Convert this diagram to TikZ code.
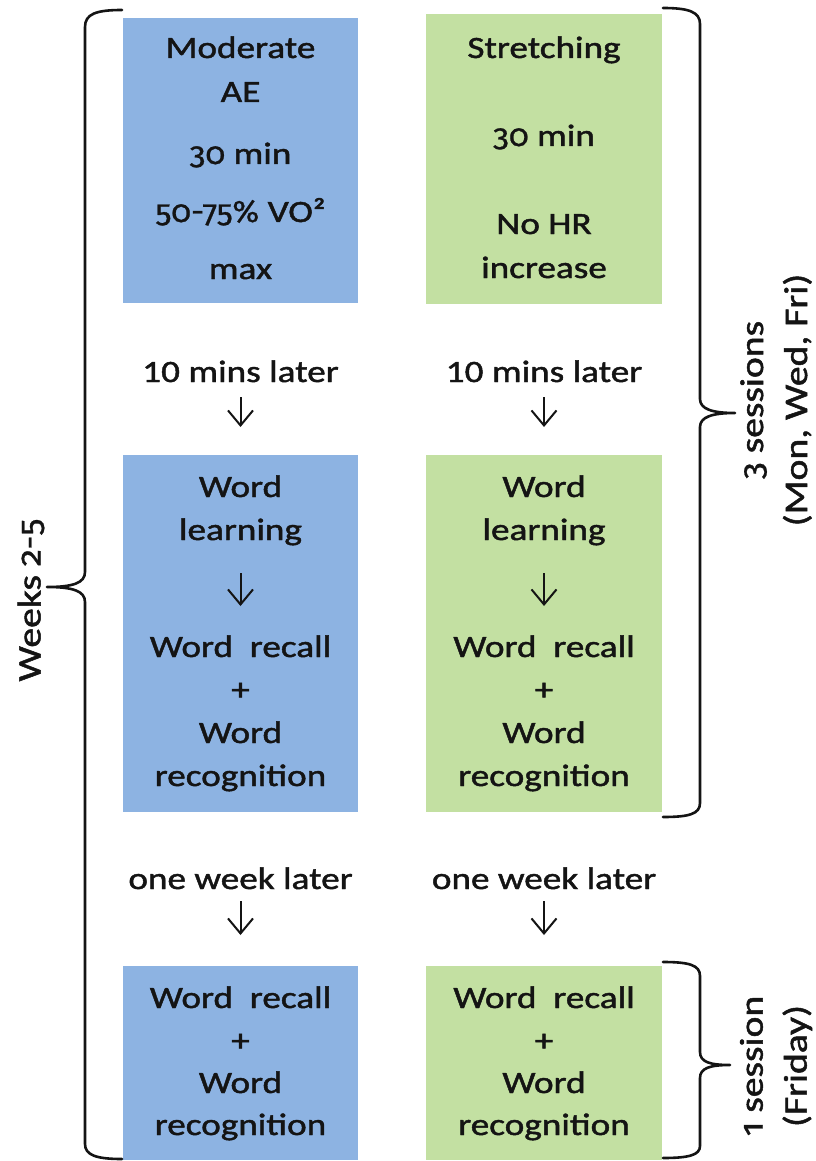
\documentclass[tikz,border=0pt]{standalone}
\usepackage{fontspec}
\setmainfont{Carlito}[FakeStretch=1.2,FakeBold=1.5]
\newfontfamily\osffont{Fira Sans}[Numbers=OldStyle,FakeStretch=1.05,FakeBold=0.8]
\newcommand\olddig[1]{{\osffont #1}}
\usetikzlibrary{arrows.meta}
\definecolor{aeblue}{HTML}{8DB3E2}
\definecolor{stgreen}{HTML}{C3E0A2}
\definecolor{ink}{HTML}{141414}
\begin{document}
\begin{tikzpicture}[x=1pt,y=-1pt,
  box/.style={inner sep=0pt, outer sep=0pt, draw=none},
  bluebox/.style={box, fill=aeblue, minimum width=235pt},
  greenbox/.style={box, fill=stgreen, minimum width=236pt},
  txt/.style={inner sep=0pt, anchor=base, text=ink, font=\fontsize{31}{43}\selectfont},
  side/.style={inner sep=0pt, rotate=90, align=center, text=ink, font=\fontsize{33}{44}\selectfont},
  darr/.style={line width=2pt, draw=ink, -{Straight Barb[length=15pt,width=25pt]}},
  brace/.style={line width=2.6pt, draw=ink, line join=round, line cap=round}
]
\useasboundingbox (0,0) rectangle (815,1161);

% coloured session boxes
\node[bluebox,  minimum height=285pt] (ae)  at (240.5,160.5) {};
\node[greenbox, minimum height=290pt] (st)  at (544,159)     {};
\node[bluebox,  minimum height=357pt] (wlA) at (240.5,633.5) {};
\node[greenbox, minimum height=357pt] (wlB) at (544,633.5)   {};
\node[bluebox,  minimum height=194pt] (rtA) at (240.5,1063)  {};
\node[greenbox, minimum height=194pt] (rtB) at (544,1063)    {};

% exercise boxes
\node[txt] (ae1) at (240.5,58)  {Moderate};
\node[txt] (ae2) at (240.5,102) {AE};
\node[txt] (ae3) at (240.5,164) {\olddig{30} min};
\node[txt] (ae4) at (240.5,222) {\olddig{50-75\%} VO²};
\node[txt] (ae5) at (240.5,279) {max};

\node[txt] (st1) at (544,58)  {Stretching};
\node[txt] (st2) at (544,146) {\olddig{30} min};
\node[txt] (st3) at (544,234) {No HR};
\node[txt] (st4) at (544,278) {increase};

% delays
\node[txt] (dA) at (240.5,382) {10 mins later};
\node[txt] (dB) at (544,382)   {10 mins later};
\coordinate (dAs) at (240.5,397);
\coordinate (dAe) at (240.5,427);
\coordinate (dBs) at (544,397);
\coordinate (dBe) at (544,427);
\draw[darr] (dAs) -- (dAe);
\draw[darr] (dBs) -- (dBe);

% learning and testing boxes
\node[txt] (la1) at (240.5,497) {Word};
\node[txt] (la2) at (240.5,540) {learning};
\node[txt] (la3) at (240.5,657) {Word\ \ recall};
\node[txt] (la4) at (240.5,700) {+};
\node[txt] (la5) at (240.5,743) {Word};
\node[txt] (la6) at (240.5,786) {recognition};
\coordinate (laS) at (240.5,573);
\coordinate (laE) at (240.5,606);
\draw[darr] (laS) -- (laE);

\node[txt] (lb1) at (544,497) {Word};
\node[txt] (lb2) at (544,540) {learning};
\node[txt] (lb3) at (544,657) {Word\ \ recall};
\node[txt] (lb4) at (544,700) {+};
\node[txt] (lb5) at (544,743) {Word};
\node[txt] (lb6) at (544,786) {recognition};
\coordinate (lbS) at (544,573);
\coordinate (lbE) at (544,606);
\draw[darr] (lbS) -- (lbE);

% one week delay
\node[txt] (wA) at (240.5,889) {one week later};
\node[txt] (wB) at (544,889)   {one week later};
\coordinate (wAs) at (240.5,901);
\coordinate (wAe) at (240.5,935);
\coordinate (wBs) at (544,901);
\coordinate (wBe) at (544,935);
\draw[darr] (wAs) -- (wAe);
\draw[darr] (wBs) -- (wBe);

% retention test boxes
\node[txt] (ra1) at (240.5,1008) {Word\ \ recall};
\node[txt] (ra2) at (240.5,1051) {+};
\node[txt] (ra3) at (240.5,1093) {Word};
\node[txt] (ra4) at (240.5,1135) {recognition};

\node[txt] (rb1) at (544,1008) {Word\ \ recall};
\node[txt] (rb2) at (544,1051) {+};
\node[txt] (rb3) at (544,1093) {Word};
\node[txt] (rb4) at (544,1135) {recognition};

% braces
\draw[brace] (122,10) .. controls (96,10) and (85,14) .. (85,27)
  -- (85,572) .. controls (85,583) and (73,587) .. (47,587)
  .. controls (73,587) and (85,591) .. (85,602)
  -- (85,1144) .. controls (85,1155) and (96,1159) .. (122,1159);

\draw[brace] (663,8) .. controls (689,8) and (700,12) .. (700,24)
  -- (700,399) .. controls (700,409) and (712,413) .. (735,413)
  .. controls (712,413) and (700,417) .. (700,427)
  -- (700,803) .. controls (700,814) and (689,817) .. (663,817);

\draw[brace] (663,962) .. controls (689,962) and (700,965) .. (700,976)
  -- (700,1052) .. controls (700,1062) and (710,1065) .. (730,1065)
  .. controls (710,1065) and (700,1068) .. (700,1078)
  -- (700,1146) .. controls (700,1155) and (689,1158) .. (663,1158);

% brace labels
\node[side] (wk)  at (31,600)   {Weeks \olddig{2-5}};
\node[side] (ses) at (776,400)  {\olddig{3} sessions\\(Mon, Wed, Fri)};
\node[side] (fri) at (776,1066) {\olddig{1} session\\(Friday)};
\end{tikzpicture}
\end{document}
